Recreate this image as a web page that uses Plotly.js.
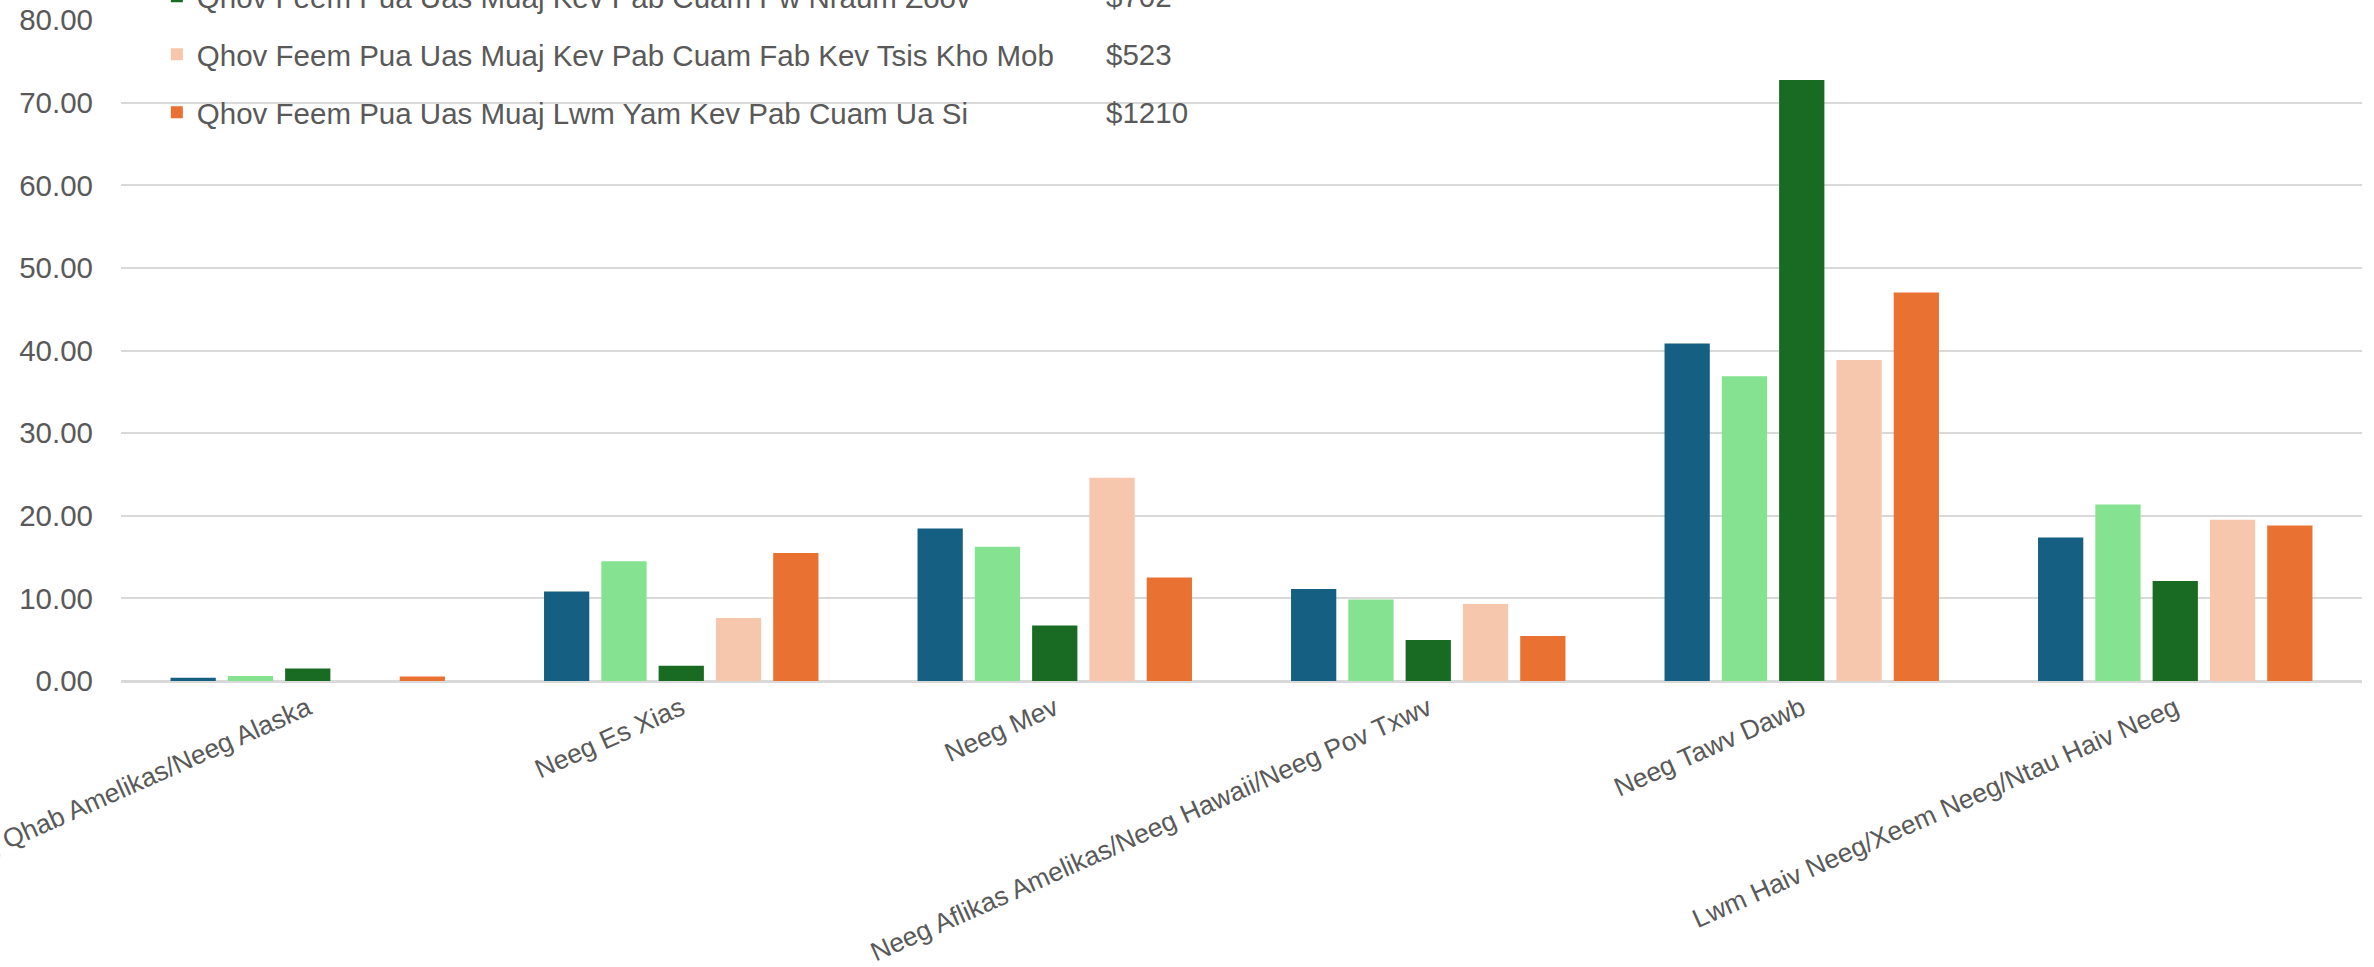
<!DOCTYPE html>
<html>
<head>
<meta charset="utf-8">
<script src="https://cdn.plot.ly/plotly-3.0.1.min.js"></script>
<style>
  html, body { margin: 0; padding: 0; background: #ffffff; }
  #chart { width: 2374px; height: 967px; }
</style>
</head>
<body>
<div id="chart"></div>
<script>
// ---- Data ----
var categories = [
  "Neeg Qhab Amelikas/Neeg Alaska",
  "Neeg Es Xias",
  "Neeg Mev",
  "Neeg Aflikas Amelikas/Neeg Hawaii/Neeg Pov Txwv",
  "Neeg Tawv Dawb",
  "Lwm Haiv Neeg/Xeem Neeg/Ntau Haiv Neeg"
];

var seriesNames = [
  "Qhov Feem Pua Uas Muaj Kev Pab Cuam Kev Noj Qab Haus Huv",
  "Qhov Feem Pua Uas Muaj Kev Pab Cuam Kev Kawm Ntawv",
  "Qhov Feem Pua Uas Muaj Kev Pab Cuam Pw Nraum Zoov",
  "Qhov Feem Pua Uas Muaj Kev Pab Cuam Fab Kev Tsis Kho Mob",
  "Qhov Feem Pua Uas Muaj Lwm Yam Kev Pab Cuam Ua Si"
];

var legendAmounts = [null, null, "$702", "$523", "$1210"];

var series1 = [0.40, 10.84, 18.46, 11.14, 40.84, 17.36];
var series2 = [0.60, 14.50, 16.26, 9.86, 36.88, 21.37];
var series3 = [1.51, 1.86, 6.72, 4.96, 72.75, 12.09];
var series4 = [0.00, 7.63, 24.59, 9.32, 38.84, 19.52];
var series5 = [0.55, 15.50, 12.54, 5.45, 47.01, 18.82];

var yTicks = [0, 10, 20, 30, 40, 50, 60, 70, 80];

// ---- Styles ----
var colors = ["#156082", "#84E291", "#196B24", "#F6C6AD", "#E97132"];
var allSeries = [series1, series2, series3, series4, series5];
var FONT = "'Liberation Sans', Arial, 'DejaVu Sans', sans-serif";
var TXT = "#595959";

var traces = allSeries.map(function (vals, i) {
  return {
    type: "bar",
    name: seriesNames[i],
    x: categories,
    y: vals,
    legendgroup: "g" + i,
    marker: { color: colors[i], line: { width: 0 } },
    hoverinfo: "x+y+name"
  };
});

// legend entry vertical centres (paper coords) for the amount column
var entryY = [1.2107, 1.1230, 1.0353, 0.9475, 0.8597];
var annotations = [];
legendAmounts.forEach(function (amt, i) {
  if (amt === null) return;
  annotations.push({
    xref: "paper", yref: "paper",
    x: 0.4386, y: entryY[i],
    xanchor: "left", yanchor: "middle",
    text: amt, showarrow: false,
    font: { family: FONT, size: 29.5, color: TXT }
  });
});

var layout = {
  width: 2374,
  height: 967,
  paper_bgcolor: "#ffffff",
  plot_bgcolor: "#ffffff",
  margin: { l: 121, r: 12, t: 20, b: 286, autoexpand: false },
  font: { family: FONT, size: 29.5, color: TXT },
  barmode: "group",
  bargap: 0.233,
  bargroupgap: 0.21,
  showlegend: true,
  legend: {
    x: 0.016, xanchor: "left",
    y: 0.8205, yanchor: "bottom",
    traceorder: "grouped",
    tracegroupgap: 16.65,
    bgcolor: "rgba(0,0,0,0)",
    font: { family: FONT, size: 29.5, color: TXT }
  },
  xaxis: {
    type: "category",
    tickangle: -24,
    ticks: "",
    ticklabelstandoff: 6,
    showgrid: false,
    showline: false,
    zeroline: false,
    tickfont: { family: FONT, size: 26.5, color: TXT },
    automargin: false
  },
  yaxis: {
    range: [0, 80],
    tickvals: yTicks,
    tickformat: ".2f",
    ticks: "",
    ticklabelstandoff: 27,
    showgrid: true,
    gridcolor: "#d9d9d9",
    gridwidth: 1.5,
    zeroline: true,
    zerolinecolor: "#d9d9d9",
    zerolinewidth: 2.5,
    showline: false,
    tickfont: { family: FONT, size: 29.5, color: TXT },
    automargin: false
  },
  shapes: [{
    type: "rect",
    xref: "paper", yref: "paper",
    x0: 0.00714, x1: 0.7117,
    y0: 0.81, y1: 1.3,
    fillcolor: "#ffffff",
    line: { width: 0 },
    layer: "between"
  }],
  annotations: annotations
};

Plotly.newPlot("chart", traces, layout, { displayModeBar: false, responsive: false });
</script>
</body>
</html>
